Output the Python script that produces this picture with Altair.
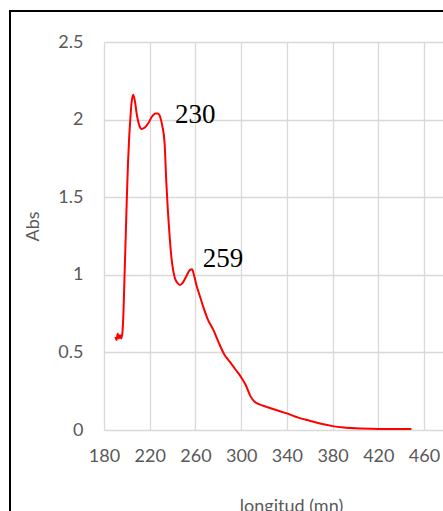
import altair as alt
import pandas as pd

# Wavelength (nm) and absorbance
wavelength = [190, 191, 192, 193, 194, 195, 196, 197, 198, 199, 200, 201, 202, 203, 204,
              205.5, 207, 209, 211, 213, 216, 219, 222, 225, 227, 229, 231, 233, 234.5,
              236, 237.5, 239, 240.5, 242, 244, 246.5, 249, 252, 255, 257, 259, 261,
              264, 267, 271, 276, 280, 285, 290, 295, 300, 304, 308, 312, 316, 322,
              330, 340, 350, 360, 370, 380, 390, 400, 420, 440, 449]
absorbance = [0.60, 0.58, 0.62, 0.59, 0.61, 0.59, 0.62, 0.75, 1.00, 1.25, 1.50, 1.72, 1.88, 2.00, 2.10,
              2.16, 2.12, 2.02, 1.96, 1.94, 1.95, 1.98, 2.02, 2.04, 2.04, 2.02, 1.96, 1.85, 1.60,
              1.40, 1.24, 1.11, 1.03, 0.98, 0.95, 0.935, 0.95, 0.99, 1.03, 1.035, 0.99, 0.93,
              0.86, 0.79, 0.71, 0.64, 0.57, 0.49, 0.44, 0.39, 0.34, 0.29, 0.22, 0.18, 0.165, 0.15,
              0.13, 0.107, 0.08, 0.06, 0.04, 0.025, 0.016, 0.011, 0.007, 0.006, 0.006]

# Peak annotations
peak_labels = ["230", "259"]
peak_label_x = [242.1, 266.4]
peak_label_y = [1.978, 1.052]

x_ticks = [180, 220, 260, 300, 340, 380, 420, 460]
y_ticks = [0, 0.5, 1, 1.5, 2, 2.5]
x_max = 476.6  # visible right edge of the (cropped) plot area

df = pd.DataFrame({"x": wavelength, "y": absorbance})
ann = pd.DataFrame({"x": peak_label_x, "y": peak_label_y, "t": peak_labels})

xscale = alt.Scale(domain=[180, x_max], nice=False, zero=False)
yscale = alt.Scale(domain=[0, 2.5], nice=False)

line = alt.Chart(df).mark_line(color="#ff0000", strokeWidth=2, interpolate="monotone").encode(
    x=alt.X("x:Q", scale=xscale,
            axis=alt.Axis(values=x_ticks, title="longitud (mn)", titleX=187, titleY=81,
                          titleBaseline="alphabetic", labelPadding=17, labelFlush=False)),
    y=alt.Y("y:Q", scale=yscale,
            axis=alt.Axis(values=y_ticks, format="~g", title="Abs", titleX=-62, titleY=184,
                          titleAngle=270, titleBaseline="bottom", titleAlign="center",
                          labelPadding=21)),
)

text = alt.Chart(ann).mark_text(font="Liberation Serif", fontSize=27, align="left",
                                baseline="alphabetic", color="black").encode(
    x=alt.X("x:Q", scale=xscale), y=alt.Y("y:Q", scale=yscale), text="t:N")

frame = alt.Chart(alt.Data(values=[{}])).mark_rect(fill=None, stroke="black", strokeWidth=2).encode(
    x=alt.value(-94), x2=alt.value(600), y=alt.value(-31), y2=alt.value(700))

chart = alt.layer(line, text, frame).properties(
    width=339, height=388,
    background="white",
    autosize=alt.AutoSizeParams(type="none"),
    padding={"left": 104, "top": 42, "right": 0, "bottom": 81},
).configure_view(stroke=None).configure_axis(
    grid=True, gridColor="#d9d9d9", gridWidth=1.3, domain=False, ticks=False,
    labelFont="Lato", labelFontSize=18, labelColor="#595959",
    titleFont="Lato", titleFontSize=18, titleColor="#595959", titleFontWeight="normal",
)

chart.save("out.html", embed_options={"renderer": "svg", "actions": False})
